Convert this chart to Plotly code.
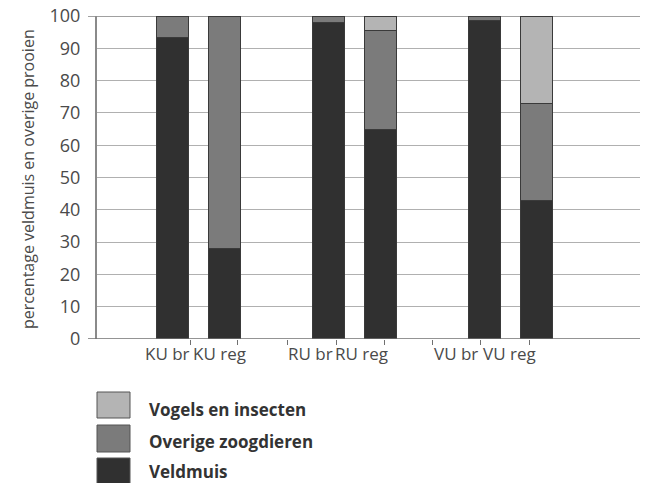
import plotly.graph_objects as go

# ---- data ----
categories = ["KU br", "KU reg", "RU br", "RU reg", "VU br", "VU reg"]
veldmuis = [93.5, 28, 98, 65, 98.5, 43]
overige = [6.5, 72, 2, 30.5, 1.5, 30]
vogels = [0, 0, 0, 4.5, 0, 27]
y_ticks = list(range(0, 101, 10))
series_names = ["Vogels en insecten", "Overige zoogdieren", "Veldmuis"]

# ---- layout constants ----
W, H = 650, 483
L, R, T, B = 97, 10, 16, 144
PW, PH = W - L - R, H - T - B
UNIT = 52.0
bar_pos = [1.45, 2.45, 4.45, 5.45, 7.45, 8.45]
label_pos = [1.365, 2.365, 4.115, 5.096, 6.904, 7.942]
tick_pos = [1.79, 2.71, 3.67, 4.60, 5.52, 6.46, 7.37, 8.31]
colors = {"Veldmuis": "#303030", "Overige zoogdieren": "#7b7b7b", "Vogels en insecten": "#b4b4b4"}
FONT = "Open Sans"


def px(x):
    return (x - L) / PW


def py(y):
    return (T + PH - y) / PH


fig = go.Figure()
for name, vals in [("Veldmuis", veldmuis), ("Overige zoogdieren", overige), ("Vogels en insecten", vogels)]:
    fig.add_trace(go.Bar(
        x=bar_pos, y=vals, name=name, width=0.6,
        marker=dict(color=colors[name], line=dict(color="#3a3a3a", width=1)),
        showlegend=False, hoverinfo="skip",
    ))

shapes = [
    dict(type="line", xref="paper", yref="y", x0=px(88), x1=1, y0=100, y1=100,
         line=dict(color="#808080", width=1.5), layer="below"),
    dict(type="line", xref="paper", yref="y", x0=px(88), x1=1, y0=0, y1=0,
         line=dict(color="#707070", width=1.5), layer="above"),
]
annotations = [
    dict(text="percentage veldmuis en overige prooien", textangle=-90,
         xref="paper", yref="paper", x=px(28), y=0.495, xanchor="center", yanchor="middle",
         showarrow=False, font=dict(family=FONT, size=16, color="#4a4a4a")),
]
for c, xp in zip(categories, label_pos):
    annotations.append(dict(text=c, xref="x", yref="paper", x=xp, y=py(353),
                            xanchor="center", yanchor="middle", showarrow=False,
                            font=dict(family=FONT, size=17, color="#4a4a4a")))

leg_rows = [(392, 418, 409), (425, 452, 441), (458, 484, 472)]
for name, (y0, y1, yt) in zip(series_names, leg_rows):
    shapes.append(dict(type="rect", xref="paper", yref="paper",
                       x0=px(97), x1=px(130), y0=py(y1), y1=py(y0),
                       fillcolor=colors[name], line=dict(color="#555", width=1)))
    annotations.append(dict(text="<b>" + name + "</b>", xref="paper", yref="paper",
                            x=px(147), y=py(yt), xanchor="left", yanchor="middle",
                            showarrow=False,
                            font=dict(family=FONT, size=17, color="#333")))

fig.update_layout(
    width=W, height=H,
    margin=dict(l=L, r=R, t=T, b=B, autoexpand=False),
    barmode="stack",
    plot_bgcolor="white", paper_bgcolor="white",
    shapes=shapes, annotations=annotations,
    xaxis=dict(range=[0, PW / UNIT], showgrid=False, zeroline=False, showline=False,
               tickvals=tick_pos, ticks="outside", ticklen=5, tickcolor="#707070",
               tickwidth=1, showticklabels=False, automargin=False),
    yaxis=dict(range=[0, 100], tickvals=y_ticks, showgrid=True, gridcolor="#b0b0b0",
               gridwidth=1, zeroline=False, showline=True, linecolor="#8a8a8a",
               linewidth=2, ticks="", ticklabelstandoff=11, automargin=False,
               tickfont=dict(family=FONT, size=18, color="#4a4a4a")),
    font=dict(family=FONT),
)

fig.write_html("out.html", config={"displayModeBar": False},
               post_script="document.body.style.margin='0px';document.body.style.overflow='hidden';")
